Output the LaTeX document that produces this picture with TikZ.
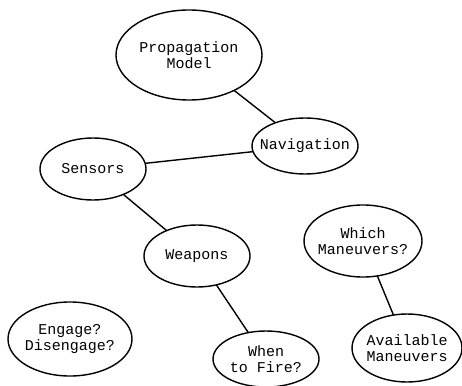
\documentclass[tikz,border=0pt]{standalone}
\usepackage{fontspec}
\setmonofont{Liberation Mono}
\usetikzlibrary{shapes.geometric}
\begin{document}
\begin{tikzpicture}[x=1pt,y=-1pt,
  bubble/.style={draw, ellipse, line width=1.4pt, inner sep=0pt, outer sep=0pt},
  caption/.style={align=center, inner sep=0pt,
    font=\ttfamily\fontsize{15}{16.5}\selectfont},
  link/.style={line width=1.4pt}]
\useasboundingbox (0,0) rectangle (462,385);
% ellipse outlines, sized explicitly
\node[bubble, minimum width=146, minimum height=90] (prop) at (189,55) {};
\node[bubble, minimum width=106, minimum height=56] (nav) at (305,146) {};
\node[bubble, minimum width=106, minimum height=62] (sens) at (93,169) {};
\node[bubble, minimum width=106, minimum height=62] (weap) at (197,256) {};
\node[bubble, minimum width=118, minimum height=72] (which) at (363,241) {};
\node[bubble, minimum width=110, minimum height=68] (avail) at (407,348) {};
\node[bubble, minimum width=124, minimum height=74] (eng) at (70,339) {};
\node[bubble, minimum width=106, minimum height=56] (fire) at (266,359) {};
% labels inside the ellipses
\node[caption] (propT) at (prop) {Propagation\\Model};
\node[caption] (navT) at (nav) {Navigation};
\node[caption] (sensT) at (sens) {Sensors};
\node[caption] (weapT) at (weap) {Weapons};
\node[caption] (whichT) at (which) {Which\\Maneuvers?};
\node[caption] (availT) at (avail) {Available\\Maneuvers};
\node[caption] (engT) at (eng) {Engage?\\Disengage?};
\node[caption] (fireT) at (fire) {When\\to Fire?};
% connectors
\draw[link] (prop) -- (nav);
\draw[link] (nav) -- (sens);
\draw[link] (sens) -- (weap);
\draw[link] (weap) -- (fire);
\draw[link] (which) -- (avail);
\end{tikzpicture}
\end{document}
